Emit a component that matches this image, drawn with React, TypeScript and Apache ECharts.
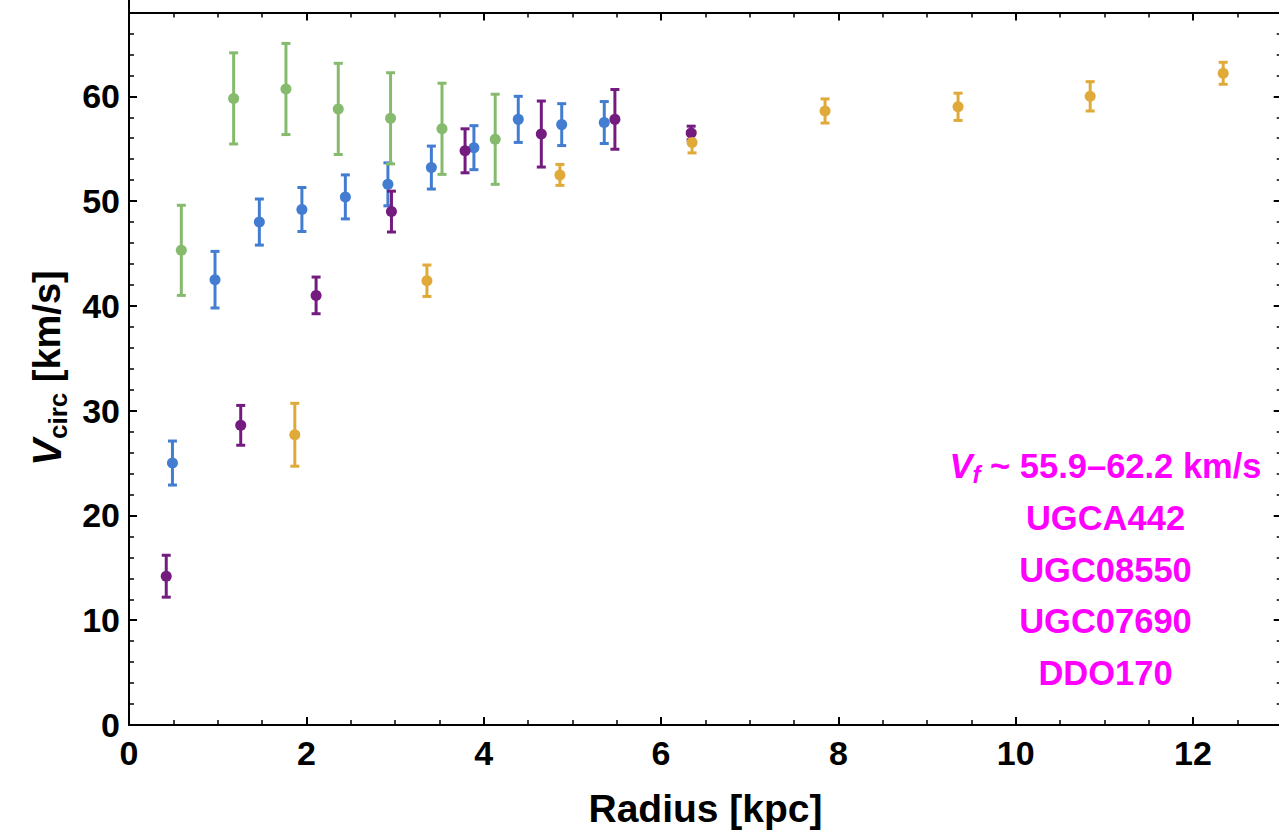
import React, { useEffect, useRef } from 'react';
import * as echarts from 'echarts';

const FONT_FAMILY = '"Liberation Sans", Arial, Helvetica, sans-serif';

// Rotation-curve samples: radius [kpc], circular velocity [km/s], 1-sigma error [km/s]
const blueRadius = [0.49, 0.97, 1.47, 1.95, 2.44, 2.92, 3.41, 3.89, 4.39, 4.88, 5.36];
const blueVel = [25.0, 42.5, 48.0, 49.2, 50.4, 51.6, 53.2, 55.1, 57.8, 57.3, 57.5];
const blueErr = [2.1, 2.7, 2.2, 2.1, 2.1, 2.05, 2.05, 2.1, 2.2, 2.0, 2.0];

const greenRadius = [0.59, 1.18, 1.77, 2.36, 2.95, 3.53, 4.13];
const greenVel = [45.3, 59.8, 60.7, 58.8, 57.9, 56.9, 55.9];
const greenErr = [4.3, 4.35, 4.35, 4.35, 4.35, 4.35, 4.3];

const purpleRadius = [0.42, 1.26, 2.11, 2.96, 3.79, 4.65, 5.48, 6.34];
const purpleVel = [14.2, 28.6, 41.0, 49.0, 54.8, 56.4, 57.8, 56.5];
const purpleErr = [2.0, 1.9, 1.75, 1.95, 2.1, 3.15, 2.85, 0.65];

const orangeRadius = [1.87, 3.36, 4.86, 6.35, 7.85, 9.35, 10.84, 12.34];
const orangeVel = [27.7, 42.4, 52.5, 55.6, 58.6, 59.0, 60.0, 62.2];
const orangeErr = [3.0, 1.5, 1.0, 1.0, 1.15, 1.3, 1.4, 1.05];

// Axis ranges / tick steps (the frame itself ends at 13 kpc and 68 km/s)
const xRange = [0, 14];
const xMajorStep = 2;
const yRange = [0, 70];
const yMajorStep = 10;

const vfRangeText = ' ~ 55.9\u201362.2 km/s';
const galaxyNames = ['UGCA442', 'UGC08550', 'UGC07690', 'DDO170'];

const galaxies = [
  { name: galaxyNames[0], color: '#427DD2', r: blueRadius, v: blueVel, e: blueErr },
  { name: galaxyNames[1], color: '#86BB6E', r: greenRadius, v: greenVel, e: greenErr },
  { name: galaxyNames[2], color: '#741B80', r: purpleRadius, v: purpleVel, e: purpleErr },
  { name: galaxyNames[3], color: '#E0AA3A', r: orangeRadius, v: orangeVel, e: orangeErr },
];

// The chart canvas is slightly larger than the visible window; the frame's
// top edge and right edge sit inside it while the axis extents spill past.
const CANVAS_W = 1380;
const CANVAS_H = 850;
const SHIFT_Y = 10; // canvas is placed 10px above the page top

function measure(ctx: CanvasRenderingContext2D, text: string, size: number, italic = false) {
  ctx.font = `${italic ? 'italic ' : ''}bold ${size}px ${FONT_FAMILY}`;
  return ctx.measureText(text).width;
}

function txt(text: string, x: number, y: number, size: number, opts: any = {}) {
  const align = opts.align || 'left';
  return {
    type: 'text',
    x,
    y,
    silent: true,
    style: {
      text,
      fill: opts.fill || '#000',
      fontSize: size,
      fontWeight: 'bold',
      fontStyle: opts.italic ? 'italic' : 'normal',
      fontFamily: FONT_FAMILY,
      align,
      textAlign: align,
      verticalAlign: 'middle',
      textVerticalAlign: 'middle',
    },
  };
}

export default function App() {
  const ref = useRef<HTMLDivElement>(null);

  useEffect(() => {
    if (!ref.current) return;
    const chart = echarts.init(ref.current, undefined, { renderer: 'svg' });
    const ctx = document.createElement('canvas').getContext('2d') as CanvasRenderingContext2D;

    const axisLineStyle = { color: '#000', width: 2 };
    const tickCommon = {
      show: true,
      inside: true,
      length: 8,
      lineStyle: { color: '#000', width: 2 },
    };
    const minorCommon = (split: number) => ({
      show: true,
      splitNumber: split,
      length: 5,
      lineStyle: { color: '#000', width: 1.5 },
    });
    const labelCommon = {
      color: '#000',
      fontSize: 34,
      fontWeight: 'bold',
      fontFamily: FONT_FAMILY,
      showMaxLabel: false,
    };

    const xAxisBase = {
      type: 'value',
      min: xRange[0],
      max: xRange[1],
      interval: xMajorStep,
      axisLine: { show: true, onZero: false, lineStyle: axisLineStyle },
      axisTick: tickCommon,
      minorTick: minorCommon(4),
      splitLine: { show: false },
      minorSplitLine: { show: false },
    };
    const yAxisBase = {
      type: 'value',
      min: yRange[0],
      max: yRange[1],
      interval: yMajorStep,
      axisLine: { show: true, onZero: false, lineStyle: axisLineStyle },
      axisTick: tickCommon,
      minorTick: minorCommon(5),
      splitLine: { show: false },
      minorSplitLine: { show: false },
    };

    const series: any[] = [];
    galaxies.forEach((g) => {
      const rows = g.r.map((r, i) => [r, g.v[i], g.e[i]]);
      series.push({
        type: 'custom',
        name: g.name + ' error',
        data: rows,
        dimensions: ['r', 'v', 'e'],
        encode: { x: 0, y: 1 },
        clip: false,
        renderItem: (_params: any, api: any) => {
          const x = api.value(0);
          const v = api.value(1);
          const e = api.value(2);
          const hi = api.coord([x, v + e]);
          const lo = api.coord([x, v - e]);
          const hw = 4.5;
          const st = { stroke: g.color, lineWidth: 3 };
          return {
            type: 'group',
            children: [
              { type: 'line', shape: { x1: hi[0], y1: hi[1], x2: lo[0], y2: lo[1] }, style: st },
              { type: 'line', shape: { x1: hi[0] - hw, y1: hi[1], x2: hi[0] + hw, y2: hi[1] }, style: st },
              { type: 'line', shape: { x1: lo[0] - hw, y1: lo[1], x2: lo[0] + hw, y2: lo[1] }, style: st },
            ],
          };
        },
      });
      series.push({
        type: 'scatter',
        name: g.name,
        data: rows.map((d) => [d[0], d[1]]),
        symbol: 'circle',
        symbolSize: 11,
        itemStyle: { color: g.color, opacity: 1 },
      });
    });

    const elements: any[] = [];

    // y-axis title "V_circ [km/s]", rotated to read upward
    const wV = measure(ctx, 'V', 40, true);
    const wCirc = measure(ctx, 'circ', 26);
    const wUnit = measure(ctx, ' [km/s]', 38);
    const yTitleCenter = 368;
    const yStart = yTitleCenter + (wV + wCirc + wUnit) / 2;
    elements.push({
      type: 'group',
      x: 0,
      y: SHIFT_Y,
      rotation: Math.PI / 2,
      children: [
        txt('V', -yStart, 46.8, 40, { italic: true }),
        txt('circ', -yStart + wV, 57.7, 26),
        txt(' [km/s]', -yStart + wV + wCirc, 47.3, 38),
      ],
    });

    // x-axis title
    elements.push(txt('Radius [kpc]', 705.5, 808 + SHIFT_Y, 39, { align: 'center' }));

    // annotation: flat velocity range and galaxy names
    const magenta = '#FF00FF';
    const annSize = 34.5;
    const aV = measure(ctx, 'V', annSize, true);
    const aF = measure(ctx, 'f', 24, true);
    const aRest = measure(ctx, vfRangeText, annSize);
    const annCenterX = 1105.5;
    const aStart = annCenterX - (aV + aF + aRest) / 2;
    elements.push(txt('V', aStart, 465.5 + SHIFT_Y, annSize, { italic: true, fill: magenta }));
    elements.push(txt('f', aStart + aV, 474 + SHIFT_Y, 24, { italic: true, fill: magenta }));
    elements.push(txt(vfRangeText, aStart + aV + aF, 465.5 + SHIFT_Y, annSize, { fill: magenta }));
    const lineYs = [518, 569.5, 621, 673];
    galaxyNames.forEach((n, i) => {
      elements.push(txt(n, annCenterX, lineYs[i] + SHIFT_Y, annSize, { align: 'center', fill: magenta }));
    });

    // Frame: x 0..13 -> page x 129..1281.7 ; y 0..68 -> page y 725..12.5
    const pxPerKpc = (1281.7 - 129) / 13;
    const pxPerKms = (725 - 12.5) / 68;
    const gridLeft = 129;
    const gridRight = CANVAS_W - (gridLeft + pxPerKpc * xRange[1]);
    const gridBottom = CANVAS_H - (725 + SHIFT_Y);
    const gridTop = 725 + SHIFT_Y - pxPerKms * yRange[1];

    chart.setOption({
      animation: false,
      backgroundColor: '#fff',
      grid: { left: gridLeft, right: gridRight, top: gridTop, bottom: gridBottom, containLabel: false },
      xAxis: [
        { ...xAxisBase, position: 'bottom', axisLabel: { ...labelCommon, margin: 11 } },
        {
          ...xAxisBase,
          position: 'top',
          offset: -(12.5 + SHIFT_Y - gridTop),
          axisLabel: { show: false },
        },
      ],
      yAxis: [
        { ...yAxisBase, position: 'left', axisLabel: { ...labelCommon, margin: 9 } },
        {
          ...yAxisBase,
          position: 'right',
          offset: -(pxPerKpc * (xRange[1] - 13)),
          axisLabel: { show: false },
        },
      ],
      series,
      graphic: { elements },
    });

    return () => chart.dispose();
  }, []);

  return (
    <div
      style={{
        position: 'fixed',
        left: 0,
        top: 0,
        width: 1279,
        height: 833,
        overflow: 'hidden',
        background: '#fff',
      }}
    >
      <div
        ref={ref}
        style={{ position: 'absolute', left: 0, top: -SHIFT_Y, width: CANVAS_W, height: CANVAS_H }}
      />
    </div>
  );
}
